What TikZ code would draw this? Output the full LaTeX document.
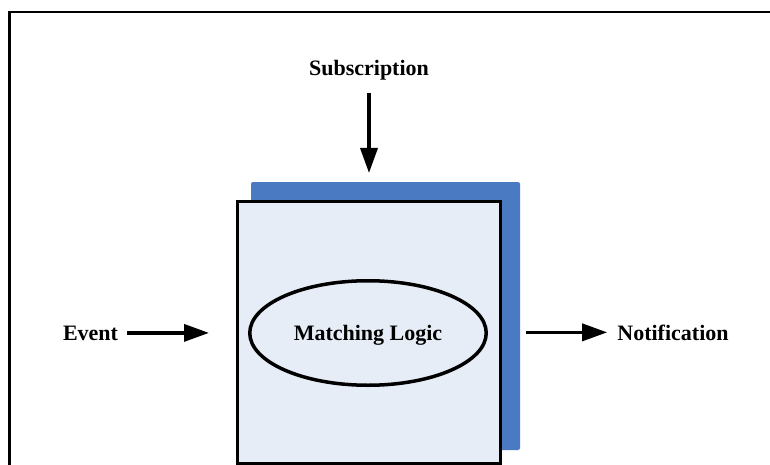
\documentclass[tikz,border=0pt]{standalone}
\usepackage{fontspec}
\setmainfont{Liberation Serif}
\usetikzlibrary{arrows.meta,shapes.geometric}
\definecolor{backblue}{HTML}{4A7AC2}
\definecolor{panelfill}{HTML}{E7EDF7}
\begin{document}
\begin{tikzpicture}[x=1pt,y=-1pt,
  labeltext/.style={font=\fontsize{22}{26}\selectfont\bfseries, inner sep=0pt},
  flow/.style={line width=3.5pt, -{Triangle[length=25pt,width=17pt]}}]
\useasboundingbox (0,0) rectangle (770,465);
% outer frame (left and top edges)
\draw[line width=2.5pt] (9.5,470) -- (9.5,12) -- (775,12);

% shadow panel behind the matcher
\node[rectangle, fill=backblue, rounded corners=2pt, inner sep=0pt,
      minimum width=269pt, minimum height=268pt] (back) at (385.5,316) {};
% matcher panel
\node[rectangle, draw, line width=3pt, fill=panelfill, inner sep=0pt,
      minimum width=263pt, minimum height=261.5pt] (box) at (368.5,332.25) {};
% matching logic ellipse
\node[ellipse, draw, line width=3.5pt, fill=panelfill, labeltext, text depth=0pt,
      minimum width=236.5pt, minimum height=104.5pt] (logic) at (368,333) {Matching Logic};

% inputs and output
\node[labeltext, anchor=base] (subs) at (369,76) {Subscription};
\node[labeltext, anchor=base] (event) at (90.5,340) {Event};
\node[labeltext, anchor=base] (notif) at (673,340) {Notification};

\draw[flow, shorten <=12pt, shorten >=27pt] (subs.south) -- (subs.south |- box.north);
\draw[flow, shorten <=9pt, shorten >=26.5pt] (event.east) -- (event.east -| box.west);
\draw[flow, shorten <=6pt, shorten >=10pt] (notif.west -| back.east) -- (notif.west);
\end{tikzpicture}
\end{document}
